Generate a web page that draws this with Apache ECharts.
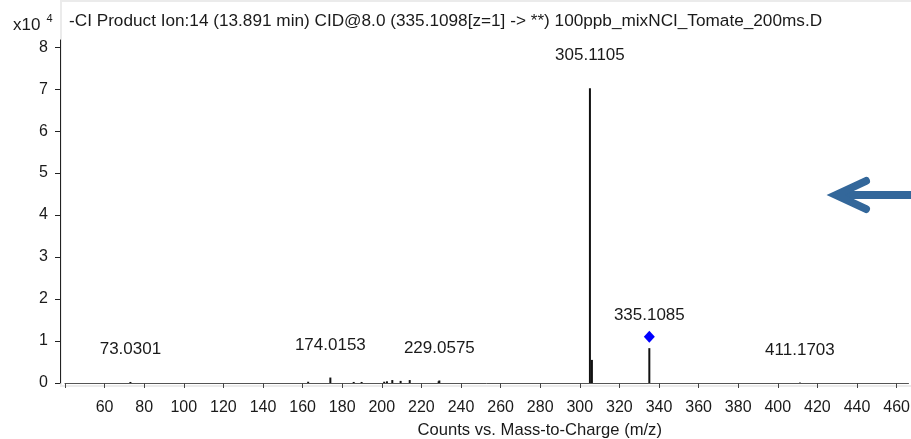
<!DOCTYPE html>
<html>
<head>
<meta charset="utf-8">
<script src="https://cdn.jsdelivr.net/npm/echarts@6/dist/echarts.min.js"></script>
<style>
  html, body { margin: 0; padding: 0; background: #fff; }
  #chart { width: 911px; height: 439px; }
</style>
</head>
<body>
<div id="chart"></div>
<script>
// peaks (m/z, counts)
const peakMz = [73.0301, 162.8, 174.0153, 185.8, 189.8, 201.2, 202.6, 205.3, 209.5, 214.1, 228.7, 229.0575, 305.1105, 306.11, 335.1085, 411.1703];
const peakCounts = [250, 300, 1300, 250, 250, 300, 400, 700, 500, 700, 400, 600, 70200, 5500, 8300, 100];
// peaks that carry an m/z label
const labelledMz = [73.0301, 174.0153, 229.0575, 305.1105, 335.1085, 411.1703];
// precursor marker (blue diamond)
const precursorMz = [335.1098];
const precursorCounts = [11000];

const titleText = "-CI Product Ion:14 (13.891 min) CID@8.0 (335.1098[z=1] -> **) 100ppb_mixNCI_Tomate_200ms.D";
const xName = "Counts vs. Mass-to-Charge (m/z)";

const FONT = "'Liberation Sans', Arial, sans-serif";
const TXT = "#1a1a1a";

const chart = echarts.init(document.getElementById("chart"));

const barData = peakMz.map((m, i) => ({
  value: [m, peakCounts[i]],
  label: { show: labelledMz.includes(m) }
}));

chart.setOption({
  animation: false,
  textStyle: { fontFamily: FONT },
  title: [
    {
      text: titleText,
      left: 64, top: 8,
      textStyle: { fontSize: 17.2, fontWeight: "normal", color: TXT, fontFamily: FONT }
    },
    {
      text: "{a|x10}{b|4}",
      left: 8, top: 8,
      textStyle: {
        fontWeight: "normal",
        rich: {
          a: { fontSize: 17, fontWeight: "normal", color: TXT, fontFamily: FONT, verticalAlign: "bottom" },
          b: { fontSize: 11, fontWeight: "normal", color: TXT, fontFamily: FONT, padding: [0, 0, 10, 6] }
        }
      }
    }
  ],
  grid: { left: 65, right: 2.5, top: 40, bottom: 56, outerBoundsMode: "none" },
  xAxis: {
    type: "value",
    min: 40, max: 466, interval: 20,
    offset: 7,
    splitLine: { show: false },
    axisLine: { lineStyle: { color: "#555", width: 1 } },
    axisTick: { length: 5, lineStyle: { color: "#444" } },
    axisLabel: {
      fontSize: 16, color: TXT, margin: 10, fontFamily: FONT,
      formatter: v => (v === 40 ? "" : String(v))
    },
    name: xName,
    nameLocation: "middle",
    nameGap: 32,
    nameTextStyle: { fontSize: 16.6, color: TXT, fontFamily: FONT, padding: [0, 0, 0, 106] }
  },
  yAxis: {
    type: "value",
    min: 0, max: 81700, interval: 10000,
    offset: 5,
    splitLine: { show: false },
    axisLine: { show: true, lineStyle: { color: "#222", width: 1 } },
    axisTick: { show: true, length: 5, lineStyle: { color: "#222" } },
    axisLabel: {
      fontSize: 16, color: TXT, margin: 12, fontFamily: FONT,
      formatter: v => String(v / 10000)
    }
  },
  graphic: [
    {
      type: "rect", z: -10, silent: true,
      shape: { x: 61, y: 1, width: 870, height: 385 },
      style: { fill: null, stroke: "#ebebeb", lineWidth: 2 }
    },
    {
      type: "group", silent: true,
      children: [
        { type: "line", shape: { x1: 838, y1: 195, x2: 915, y2: 195 },
          style: { stroke: "#33679a", lineWidth: 8, lineCap: "round" } },
        { type: "polyline", shape: { points: [[866, 181], [836, 195], [866, 209]] },
          style: { stroke: "#33679a", lineWidth: 8, lineCap: "round", lineJoin: "miter", fill: null } }
      ]
    }
  ],
  series: [
    {
      type: "bar",
      data: barData,
      barWidth: 2,
      itemStyle: { color: "#111" },
      label: {
        position: "top", distance: 24,
        fontSize: 17, color: TXT, fontFamily: FONT,
        formatter: p => p.value[0].toFixed(4)
      }
    },
    {
      type: "scatter",
      data: precursorMz.map((m, i) => [m, precursorCounts[i]]),
      symbol: "diamond",
      symbolSize: [11, 12],
      itemStyle: { color: "#0000ff", opacity: 1 },
      z: 5
    }
  ]
});
</script>
</body>
</html>
